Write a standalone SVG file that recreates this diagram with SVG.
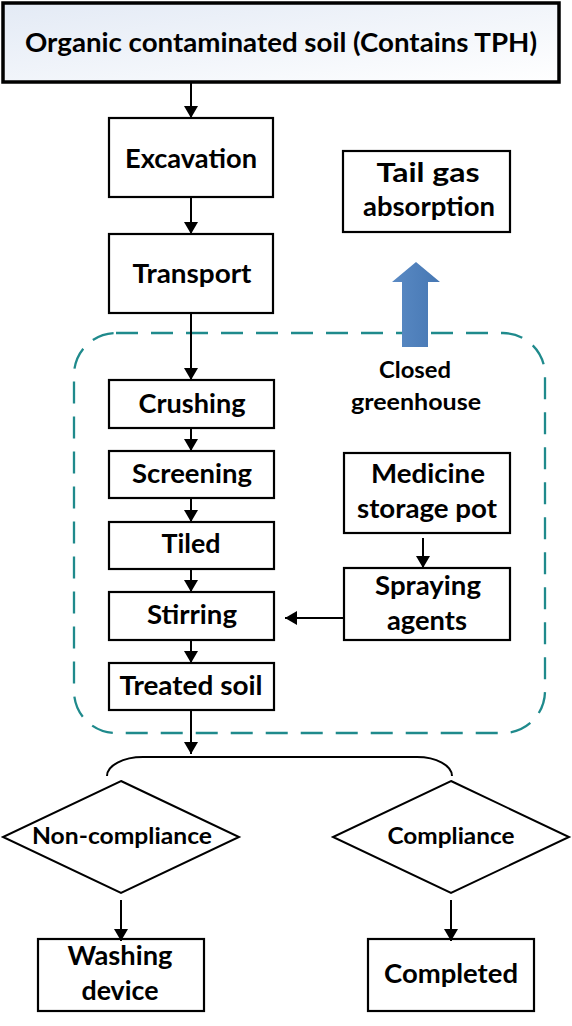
<svg xmlns="http://www.w3.org/2000/svg" width="572" height="1026" viewBox="0 0 572 1026">
<defs>
<linearGradient id="topfill" x1="0" y1="0" x2="1" y2="1">
<stop offset="0" stop-color="#e3eaf5"/>
<stop offset="1" stop-color="#ffffff"/>
</linearGradient>
<linearGradient id="blue" x1="0" y1="0" x2="1" y2="0">
<stop offset="0" stop-color="#5a8ac4"/>
<stop offset="1" stop-color="#4677b3"/>
</linearGradient>
<marker id="ah" viewBox="0 0 12 14" refX="12" refY="7" markerWidth="12" markerHeight="14" markerUnits="userSpaceOnUse" orient="auto">
<path d="M0,0 L12,7 L0,14 Z" fill="#000"/>
</marker>
<style>
.box{fill:#fff;stroke:#000;stroke-width:2.2}
.t{font-family:Lato,"Open Sans","Liberation Sans",sans-serif;font-weight:700;font-size:26px;fill:#000;text-anchor:middle}
.s{font-size:22px}
.c{stroke:#000;stroke-width:2;fill:none;marker-end:url(#ah)}
</style>
</defs>

<g id="top">
<rect x="3" y="3" width="556" height="79" fill="url(#topfill)" stroke="#000" stroke-width="3.5"/>
<text class="t" x="281" y="52" font-size="27" textLength="512" lengthAdjust="spacingAndGlyphs">Organic contaminated soil (Contains TPH)</text>
</g>

<g id="greenhouse">
<rect x="74" y="333" width="471" height="400" rx="42" ry="42" fill="none" stroke="#1f8a8c" stroke-width="2.3" stroke-dasharray="22 13"/>
<text class="t s" x="415" y="378" textLength="72" lengthAdjust="spacingAndGlyphs">Closed</text>
<text class="t s" x="416" y="410" textLength="130" lengthAdjust="spacingAndGlyphs">greenhouse</text>
</g>

<g id="excavation">
<rect class="box" x="109" y="118" width="164" height="79"/>
<text class="t" x="191" y="168" textLength="132" lengthAdjust="spacingAndGlyphs">Excavation</text>
</g>

<g id="transport">
<rect class="box" x="109" y="234" width="164" height="79"/>
<text class="t" x="192" y="283" textLength="119" lengthAdjust="spacingAndGlyphs">Transport</text>
</g>

<g id="tailgas">
<rect class="box" x="343" y="151" width="167" height="81"/>
<text class="t" x="428" y="182" textLength="103" lengthAdjust="spacingAndGlyphs">Tail gas</text>
<text class="t" x="429" y="216" textLength="132" lengthAdjust="spacingAndGlyphs">absorption</text>
</g>

<g id="gasarrow">
<path d="M402,347 L402,282 L392,282 L416,262 L440,282 L428,282 L428,347 Z" fill="url(#blue)"/>
</g>

<g id="crushing">
<rect class="box" x="109" y="380" width="165" height="48"/>
<text class="t" x="192" y="413" textLength="107" lengthAdjust="spacingAndGlyphs">Crushing</text>
</g>

<g id="screening">
<rect class="box" x="109" y="451" width="165" height="47"/>
<text class="t" x="192" y="483" textLength="120" lengthAdjust="spacingAndGlyphs">Screening</text>
</g>

<g id="tiled">
<rect class="box" x="109" y="522" width="165" height="47"/>
<text class="t" x="191" y="553" textLength="59" lengthAdjust="spacingAndGlyphs">Tiled</text>
</g>

<g id="stirring">
<rect class="box" x="109" y="592" width="165" height="48"/>
<text class="t" x="192" y="624" textLength="90" lengthAdjust="spacingAndGlyphs">Stirring</text>
</g>

<g id="treated">
<rect class="box" x="109" y="663" width="165" height="47"/>
<text class="t" x="191" y="695" textLength="143" lengthAdjust="spacingAndGlyphs">Treated soil</text>
</g>

<g id="medicine">
<rect class="box" x="344" y="453" width="166" height="80"/>
<text class="t" x="428" y="483" textLength="114" lengthAdjust="spacingAndGlyphs">Medicine</text>
<text class="t" x="427" y="518" textLength="140" lengthAdjust="spacingAndGlyphs">storage pot</text>
</g>

<g id="spraying">
<rect class="box" x="344" y="568" width="166" height="72"/>
<text class="t" x="428" y="595" textLength="106" lengthAdjust="spacingAndGlyphs">Spraying</text>
<text class="t" x="427" y="630" textLength="80" lengthAdjust="spacingAndGlyphs">agents</text>
</g>

<g id="noncompliance">
<polygon points="121,781 239,837 121,893 3,837" fill="#fff" stroke="#000" stroke-width="2"/>
<text class="t s" x="122" y="844" textLength="180" lengthAdjust="spacingAndGlyphs">Non-compliance</text>
</g>

<g id="compliance">
<polygon points="451,781 569,837 451,893 333,837" fill="#fff" stroke="#000" stroke-width="2"/>
<text class="t s" x="451" y="844" textLength="127" lengthAdjust="spacingAndGlyphs">Compliance</text>
</g>

<g id="washing">
<rect class="box" x="38" y="939" width="166" height="72"/>
<text class="t" x="120" y="965" textLength="105" lengthAdjust="spacingAndGlyphs">Washing</text>
<text class="t" x="120" y="1000" textLength="77" lengthAdjust="spacingAndGlyphs">device</text>
</g>

<g id="completed">
<rect class="box" x="368" y="939" width="166" height="72"/>
<text class="t" x="451" y="983" textLength="134" lengthAdjust="spacingAndGlyphs">Completed</text>
</g>

<g id="connectors">
<line class="c" x1="191" y1="83" x2="191" y2="118"/>
<line class="c" x1="191" y1="197" x2="191" y2="234"/>
<line class="c" x1="191" y1="313" x2="191" y2="380"/>
<line class="c" x1="191" y1="428" x2="191" y2="451"/>
<line class="c" x1="191" y1="498" x2="191" y2="522"/>
<line class="c" x1="191" y1="569" x2="191" y2="592"/>
<line class="c" x1="191" y1="640" x2="191" y2="663"/>
<line class="c" x1="191" y1="710" x2="191" y2="754"/>
<line class="c" x1="423" y1="538" x2="423" y2="568"/>
<line class="c" x1="344" y1="618" x2="285" y2="618"/>
<path d="M107,776 A36,19 0 0 1 143,757 L417,757 A35,19 0 0 1 452,776" fill="none" stroke="#000" stroke-width="2"/>
<line class="c" x1="121" y1="900" x2="121" y2="941"/>
<line class="c" x1="451" y1="900" x2="451" y2="941"/>
</g>
</svg>
